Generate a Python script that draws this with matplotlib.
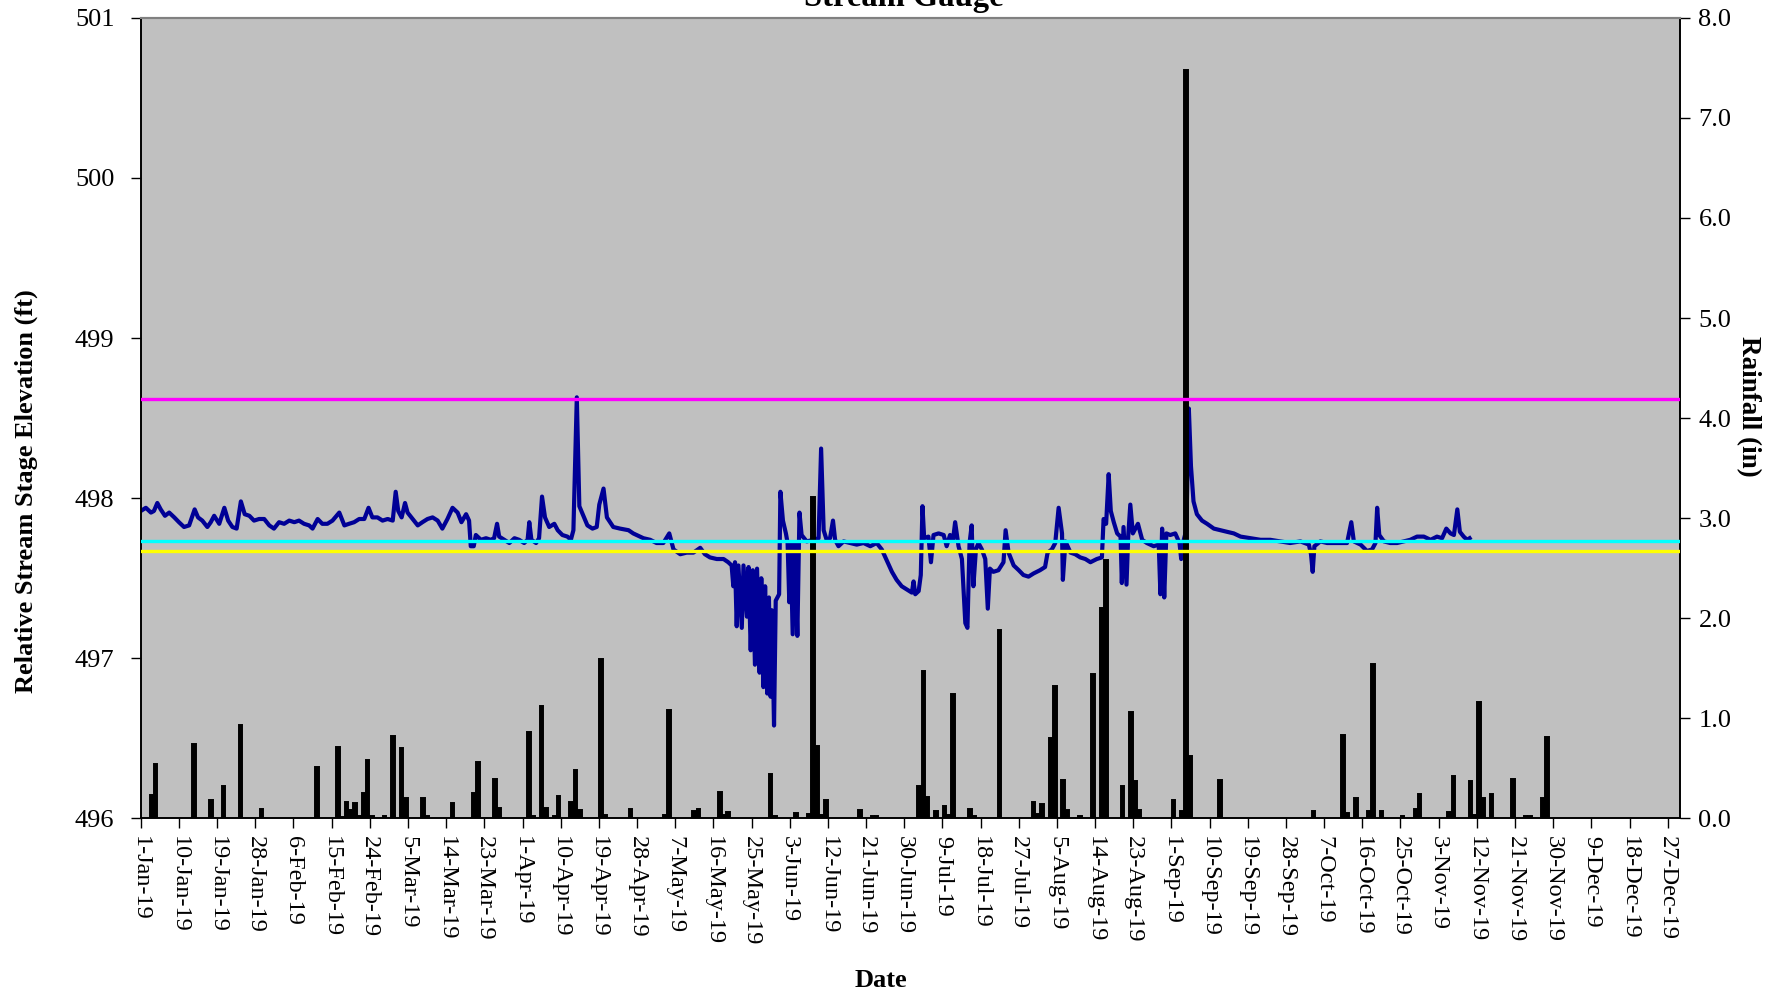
import pandas as pd
import matplotlib
matplotlib.use("Agg")
import matplotlib.pyplot as plt
import matplotlib.dates as mdates

plt.rcParams["font.family"] = ["Liberation Serif", "DejaVu Serif"]

# stage record: days after 1-Jan-19 and elevation (ft)
stage_day = [
    0.0, 1.2, 2.4, 3.1, 3.9, 4.7, 5.7, 6.7, 7.9, 9.0, 10.2, 11.4, 12.7, 13.5, 14.5, 15.7,
    16.5, 17.3, 18.5, 19.7, 20.6, 21.6, 22.6, 23.6, 24.5, 25.6, 26.7, 27.9, 29.1, 30.3,
    31.4, 32.6, 33.8, 35.0, 36.2, 37.3, 38.5, 39.7, 40.5, 41.7, 42.8, 44.0, 45.2, 46.8,
    48.0, 49.1, 50.3, 51.5, 52.7, 53.7, 54.6, 55.8, 57.0, 58.2, 59.4, 60.1, 60.7, 61.5,
    62.3, 62.9, 64.1, 65.3, 66.4, 67.6, 68.8, 70.0, 71.1, 72.3, 73.5, 74.7, 75.6, 76.7,
    77.4, 77.8, 78.5, 79.0, 80.2, 81.4, 82.5, 83.3, 84.0, 84.5, 85.7, 86.9, 88.1, 89.2,
    90.4, 91.2, 91.6, 92.1, 93.2, 93.9, 94.6, 95.3, 96.3, 97.5, 98.3, 99.4, 100.6, 101.4,
    102.0, 102.8, 103.4, 104.2, 105.3, 106.5, 107.5, 108.1, 109.1, 109.9, 111.4, 113.0,
    115.0, 116.1, 118.5, 120.1, 121.6, 123.2, 124.6, 125.6, 127.2, 128.7, 130.3, 131.9,
    133.0, 134.2, 135.8, 137.4, 138.5, 139.3, 139.7, 140.1, 140.5, 140.9, 141.7, 142.1,
    142.9, 143.3, 143.8, 144.3, 144.8, 145.3, 145.9, 146.3, 146.8, 147.2, 147.7, 148.1,
    148.5, 148.8, 149.3, 149.7, 150.5, 150.8, 151.4, 152.1, 152.5, 152.9, 153.2, 153.7,
    154.2, 154.8, 155.3, 155.8, 157.0, 158.6, 159.8, 160.4, 161.0, 161.7, 162.5, 163.2,
    163.7, 164.5, 165.7, 167.2, 168.8, 170.4, 172.0, 173.5, 174.7, 175.9, 177.1, 178.2,
    179.4, 180.6, 181.8, 182.2, 182.6, 183.4, 183.9, 184.3, 184.7, 185.7, 186.3, 186.9,
    188.1, 189.3, 190.0, 190.8, 191.5, 192.0, 192.8, 193.6, 194.4, 194.9, 195.4, 195.9,
    196.3, 196.9, 197.5, 198.3, 199.1, 199.7, 200.2, 201.0, 202.2, 203.4, 203.9, 204.6,
    205.8, 207.0, 208.1, 209.3, 210.5, 212.0, 213.2, 213.8, 214.8, 215.6, 216.4, 217.2,
    217.4, 218.0, 219.2, 220.3, 221.5, 222.7, 223.9, 225.4, 226.6, 227.0, 227.6, 228.2,
    228.7, 229.4, 230.2, 231.0, 231.3, 231.7, 232.4, 232.8, 233.3, 233.9, 235.1, 236.1,
    237.2, 238.8, 240.0, 240.4, 240.8, 241.3, 241.8, 242.7, 243.9, 244.9, 245.3, 245.9,
    246.5, 247.1, 247.6, 248.2, 249.0, 250.2, 251.4, 253.0, 254.5, 256.1, 257.7, 259.3,
    261.6, 264.0, 266.3, 268.7, 271.0, 273.4, 275.4, 275.9, 276.3, 276.7, 278.1, 279.7,
    282.0, 284.4, 285.4, 286.0, 287.6, 289.1, 290.3, 291.1, 291.5, 292.0, 293.1, 294.6,
    296.2, 297.8, 299.3, 300.9, 302.5, 304.1, 305.6, 306.8, 307.8, 308.8, 309.6, 310.4,
    311.0, 311.9, 312.7, 313.3,
]
stage_ft = [
    497.92, 497.94, 497.91, 497.92, 497.97, 497.93, 497.89, 497.91, 497.88, 497.85, 497.82,
    497.83, 497.93, 497.88, 497.86, 497.82, 497.85, 497.89, 497.84, 497.94, 497.86, 497.82,
    497.81, 497.98, 497.90, 497.89, 497.86, 497.87, 497.87, 497.83, 497.81, 497.85, 497.84,
    497.86, 497.85, 497.86, 497.84, 497.83, 497.81, 497.87, 497.84, 497.84, 497.86, 497.91,
    497.83, 497.84, 497.85, 497.87, 497.87, 497.94, 497.88, 497.88, 497.86, 497.87, 497.86,
    498.04, 497.92, 497.88, 497.97, 497.91, 497.87, 497.83, 497.85, 497.87, 497.88, 497.86,
    497.81, 497.87, 497.94, 497.91, 497.85, 497.90, 497.86, 497.70, 497.70, 497.77, 497.74,
    497.75, 497.74, 497.75, 497.84, 497.76, 497.74, 497.72, 497.75, 497.74, 497.72, 497.74,
    497.85, 497.74, 497.72, 497.75, 498.01, 497.88, 497.82, 497.84, 497.80, 497.77, 497.76,
    497.74, 497.80, 498.63, 497.95, 497.90, 497.83, 497.81, 497.82, 497.96, 498.06, 497.88,
    497.82, 497.81, 497.80, 497.78, 497.75, 497.74, 497.72, 497.72, 497.78, 497.68, 497.65,
    497.66, 497.66, 497.69, 497.65, 497.63, 497.62, 497.62, 497.60, 497.58, 497.45, 497.60,
    497.20, 497.58, 497.19, 497.58, 497.26, 497.57, 497.05, 497.55, 496.96, 497.56, 496.91,
    497.50, 496.82, 497.45, 496.78, 497.38, 496.76, 497.30, 496.58, 497.36, 497.40, 498.04,
    497.86, 497.78, 497.72, 497.35, 497.72, 497.15, 497.72, 497.14, 497.91, 497.77, 497.73,
    497.74, 497.75, 498.31, 497.80, 497.74, 497.75, 497.86, 497.74, 497.70, 497.73, 497.72,
    497.71, 497.72, 497.70, 497.72, 497.68, 497.61, 497.54, 497.49, 497.45, 497.43, 497.41,
    497.48, 497.40, 497.42, 497.52, 497.95, 497.75, 497.76, 497.60, 497.77, 497.78, 497.77,
    497.70, 497.77, 497.74, 497.85, 497.70, 497.62, 497.22, 497.19, 497.72, 497.83, 497.45,
    497.68, 497.72, 497.68, 497.62, 497.31, 497.56, 497.54, 497.55, 497.60, 497.80, 497.66,
    497.58, 497.55, 497.52, 497.51, 497.53, 497.55, 497.57, 497.66, 497.68, 497.72, 497.94,
    497.78, 497.49, 497.73, 497.66, 497.65, 497.63, 497.62, 497.60, 497.62, 497.63, 497.87,
    497.84, 498.15, 497.92, 497.85, 497.78, 497.76, 497.47, 497.82, 497.46, 497.76, 497.96,
    497.78, 497.84, 497.74, 497.72, 497.70, 497.71, 497.40, 497.81, 497.38, 497.78, 497.77,
    497.78, 497.72, 497.62, 497.74, 497.80, 498.56, 498.20, 497.98, 497.90, 497.86, 497.84,
    497.81, 497.80, 497.79, 497.78, 497.76, 497.75, 497.74, 497.74, 497.73, 497.72, 497.73,
    497.71, 497.65, 497.54, 497.70, 497.73, 497.72, 497.72, 497.72, 497.85, 497.73, 497.71,
    497.67, 497.68, 497.72, 497.94, 497.77, 497.73, 497.72, 497.72, 497.73, 497.74, 497.76,
    497.76, 497.74, 497.76, 497.75, 497.81, 497.78, 497.77, 497.93, 497.79, 497.76, 497.74,
    497.75,
]

# daily rainfall: days after 1-Jan-19 and inches
rain_day = [
    2, 3, 12, 16, 19, 23, 28, 41, 46, 47, 48, 49, 50, 51, 52, 53, 54, 57, 59, 61, 62, 66, 67,
    73, 78, 79, 83, 84, 91, 92, 94, 95, 97, 98, 101, 102, 103, 108, 109, 115, 123, 124, 130,
    131, 136, 137, 138, 148, 149, 154, 157, 158, 159, 160, 161, 169, 172, 173, 183, 184, 185,
    187, 189, 190, 191, 195, 196, 202, 210, 211, 212, 214, 215, 217, 218, 221, 224, 226, 227,
    231, 233, 234, 235, 243, 245, 246, 247, 254, 276, 283, 284, 286, 289, 290, 292, 297, 300,
    301, 308, 309, 313, 314, 315, 316, 318, 323, 326, 327, 330, 331,
]
rain_in = [
    0.23, 0.54, 0.74, 0.18, 0.32, 0.93, 0.09, 0.51, 0.71, 0.01, 0.16, 0.08, 0.15, 0.02, 0.25,
    0.58, 0.02, 0.02, 0.82, 0.70, 0.20, 0.20, 0.02, 0.15, 0.25, 0.56, 0.39, 0.10, 0.86, 0.02,
    1.12, 0.10, 0.02, 0.22, 0.16, 0.48, 0.08, 1.59, 0.03, 0.09, 0.03, 1.08, 0.07, 0.09, 0.26,
    0.03, 0.06, 0.44, 0.02, 0.05, 0.04, 3.21, 0.72, 0.03, 0.18, 0.08, 0.02, 0.02, 0.32, 1.47,
    0.21, 0.07, 0.12, 0.03, 1.24, 0.09, 0.02, 1.88, 0.16, 0.04, 0.14, 0.80, 1.32, 0.38, 0.08,
    0.02, 1.44, 2.10, 2.58, 0.32, 1.06, 0.37, 0.08, 0.18, 0.07, 7.48, 0.62, 0.38, 0.07, 0.83,
    0.05, 0.20, 0.07, 1.54, 0.07, 0.02, 0.09, 0.24, 0.06, 0.42, 0.37, 0.03, 1.16, 0.20, 0.24,
    0.39, 0.02, 0.02, 0.20, 0.81,
]

# reference elevations (ft)
ref_levels = [498.62, 497.73, 497.67]
ref_colors = ["#ff00ff", "#00ffff", "#ffff00"]

start = pd.Timestamp("2019-01-01")
stage_dates = start + pd.to_timedelta(stage_day, unit="D")
rain_dates = start + pd.to_timedelta(rain_day, unit="D") + pd.Timedelta(hours=12)
tick_dates = pd.date_range("2019-01-01", "2019-12-31", freq="9D")

fig = plt.figure(figsize=(17.82, 9.92), dpi=100)
ax = fig.add_axes([0.079, 0.175, 0.864, 0.807])
ax.set_facecolor("#c0c0c0")

ax.plot(stage_dates, stage_ft, color="#000096", linewidth=3.0, zorder=2)

ax2 = ax.twinx()
ax2.bar(rain_dates, rain_in, width=0.85, color="black", edgecolor="black",
        linewidth=1.4, zorder=3)
for lvl, col in zip(ref_levels, ref_colors):
    ax2.plot([0, 1], [lvl, lvl], color=col, linewidth=2.4,
             transform=ax.get_yaxis_transform(), zorder=4)

ax.set_xlim(start, pd.Timestamp("2019-12-30"))
ax.set_ylim(496, 501)
ax.set_yticks([496, 497, 498, 499, 500, 501])
ax2.set_ylim(0, 8)
ax2.set_yticks(range(0, 9))
ax2.yaxis.set_major_formatter(plt.FormatStrFormatter("%.1f"))

ax.set_xticks(tick_dates)
ax.xaxis.set_major_formatter(mdates.DateFormatter("%-d-%b-%y"))
ax.tick_params(axis="x", labelrotation=-90, labelsize=17.5, length=7, width=1, pad=6)
ax.tick_params(axis="y", labelsize=19, length=7, width=1, pad=12)
ax2.tick_params(axis="y", labelsize=19, length=7, width=1, pad=6)

for a in (ax, ax2):
    for s in ("left", "right", "bottom"):
        a.spines[s].set_color("black")
        a.spines[s].set_linewidth(1.2)
    a.spines["top"].set_color("#808080")
    a.spines["top"].set_linewidth(1.5)

ax.set_ylabel("Relative Stream Stage Elevation (ft)", fontsize=19, fontweight="bold")
ax.yaxis.set_label_coords(-0.067, 0.409)
ax2.set_ylabel("Rainfall (in)", fontsize=19.5, fontweight="bold", rotation=270)
ax2.yaxis.set_label_coords(1.052, 0.515)
ax.set_xlabel("Date", fontsize=19, fontweight="bold")
ax.xaxis.set_label_coords(0.481, -0.188)

fig.text(0.507, 1 - 6 / 992, "Stream Gauge", ha="center", va="baseline",
         fontsize=23.5, fontweight="bold")

fig.savefig("out.png", dpi=100)
